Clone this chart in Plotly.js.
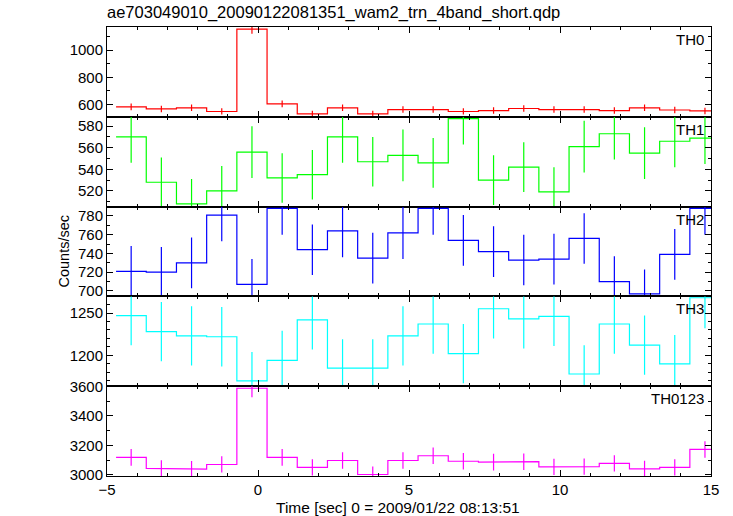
<!DOCTYPE html>
<html>
<head>
<meta charset="utf-8">
<script src="https://cdn.plot.ly/plotly-3.0.1.min.js"></script>
<style>html,body{margin:0;padding:0;background:#fff;}#chart{width:733px;height:516px;}</style>
</head>
<body>
<div id="chart"></div>
<script>
// Bin centres (sec), 1-second bins
const timeCenters = [-4.2,-3.2,-2.2,-1.2,-0.2,0.8,1.8,2.8,3.8,4.8,5.8,6.8,7.8,8.8,9.8,10.8,11.8,12.8,13.8,14.8];
const binHalfWidth = 0.5;

const panelNames = ["TH0","TH1","TH2","TH3","TH0123"];

const th0 = [583,568,576,549,1155,605,532,576,532,563,563,549,556,571,563,563,556,576,560,553];
const th0Err = [24,24,24,23,34,25,23,24,23,24,24,23,24,24,24,24,24,24,24,24];

const th1 = [570,528,508,520,556,532,535,570,547,553,546,587,530,542,519,561,573,555,566,569];
const th1Err = [24,23,23,23,24,23,23,24,23,24,23,24,23,23,23,24,24,24,24,24];

const th2 = [721,720,730,781,707,788,744,764,735,762,788,754,742,733,734,756,710,697,739,788];
const th2Err = [27,27,27,28,27,28,27,28,27,28,28,27,27,27,27,27,27,26,27,28];

const th3 = [1247,1228,1223,1222,1170,1194,1242,1185,1185,1223,1237,1202,1255,1243,1246,1178,1237,1212,1190,1268];
const th3Err = [35,35,35,35,34,35,35,34,34,35,35,35,35,35,35,34,35,35,34,36];

const th0123 = [3119,3044,3039,3071,3587,3119,3051,3098,3003,3098,3130,3093,3087,3090,3055,3057,3078,3041,3051,3173];
const th0123Err = [56,55,55,55,60,56,55,56,55,56,56,56,56,56,55,55,55,55,55,56];

const series = [th0, th1, th2, th3, th0123];
const errors = [th0Err, th1Err, th2Err, th3Err, th0123Err];
const colors = ["#ff0000","#00ff00","#0000ff","#00ffff","#ff00ff"];
const yRanges = [[510,1170],[505.4,588.7],[694.2,790],[1163.6,1269.6],[2993,3601]];
const yMajor = [200,20,20,50,200];
const yMinor = [100,10,10,10,100];

const FONT = "Liberation Sans, Arial, Helvetica, sans-serif";
const traces = [];
const layout = {
  width: 733, height: 516,
  margin: {l: 106.5, r: 22, t: 27, b: 40},
  paper_bgcolor: "#fff", plot_bgcolor: "#fff",
  showlegend: false,
  font: {family: FONT, size: 15, color: "#000"},
  title: {text: "ae703049010_20090122081351_wam2_trn_4band_short.qdp",
          x: 0, xref: "paper", xanchor: "left", y: 0.976, yref: "container", yanchor: "middle",
          font: {family: FONT, size: 16.5, color: "#000"}},
  annotations: []
};

const n = panelNames.length;
for (let i = 0; i < n; i++) {
  const idx = i + 1;
  const xa = idx === 1 ? "x" : "x" + idx;
  const ya = idx === 1 ? "y" : "y" + idx;
  const vals = series[i];
  // Histogram-style step line through bin edges
  const sx = [], sy = [];
  for (let k = 0; k < timeCenters.length; k++) {
    sx.push(timeCenters[k] - binHalfWidth, timeCenters[k] + binHalfWidth);
    sy.push(vals[k], vals[k]);
  }
  traces.push({x: sx, y: sy, xaxis: xa, yaxis: ya, type: "scatter", mode: "lines",
               line: {color: colors[i], width: 1.2}, hoverinfo: "skip"});
  traces.push({x: timeCenters, y: vals, xaxis: xa, yaxis: ya, type: "scatter", mode: "markers",
               marker: {size: 0.1, color: colors[i]},
               error_y: {type: "data", array: errors[i], visible: true, width: 0, thickness: 1.2, color: colors[i]}});

  const top = 1 - i / n, bottom = 1 - (i + 1) / n;
  const isBottom = i === n - 1;
  layout["xaxis" + (idx === 1 ? "" : idx)] = {
    domain: [0, 1], anchor: ya, range: [-5, 15],
    dtick: 5, tick0: 0, ticks: "inside", ticklen: 6, tickwidth: 1, tickcolor: "#000",
    minor: {dtick: 1, ticks: "inside", ticklen: 3, tickcolor: "#000", tickwidth: 1},
    showline: true, linecolor: "#000", linewidth: 1, mirror: "ticks",
    showgrid: false, zeroline: false,
    showticklabels: isBottom,
    tickfont: {family: FONT, size: 15, color: "#000"},
    title: {text: ""}
  };
  layout["yaxis" + (idx === 1 ? "" : idx)] = {
    domain: [bottom, top], anchor: xa, range: yRanges[i],
    dtick: yMajor[i], tick0: 0, ticks: "inside", ticklen: 6, tickwidth: 1, tickcolor: "#000",
    minor: {dtick: yMinor[i], ticks: "inside", ticklen: 3, tickcolor: "#000", tickwidth: 1},
    showline: true, linecolor: "#000", linewidth: 1, mirror: "ticks",
    showgrid: false, zeroline: false,
    tickfont: {family: FONT, size: 15, color: "#000"}
  };
  layout.annotations.push({text: panelNames[i], xref: "paper", yref: ya + " domain", x: 1, y: 1,
    xanchor: "right", yanchor: "top", xshift: -5, yshift: -2, showarrow: false,
    font: {family: FONT, size: 15, color: "#000"}});
}
layout.annotations.push({text: "Counts/sec", xref: "paper", yref: "paper", x: 0, y: 0.5,
  xanchor: "center", yanchor: "middle", xshift: -44, textangle: -90, showarrow: false,
  font: {family: FONT, size: 14.5, color: "#000"}});
layout.annotations.push({text: "Time [sec] 0 = 2009/01/22 08:13:51", xref: "paper", yref: "paper",
  x: 0.482, y: 0, xanchor: "center", yanchor: "middle", yshift: -31, showarrow: false,
  font: {family: FONT, size: 15.5, color: "#000"}});

Plotly.newPlot("chart", traces, layout, {displayModeBar: false, staticPlot: true});
</script>
</body>
</html>
